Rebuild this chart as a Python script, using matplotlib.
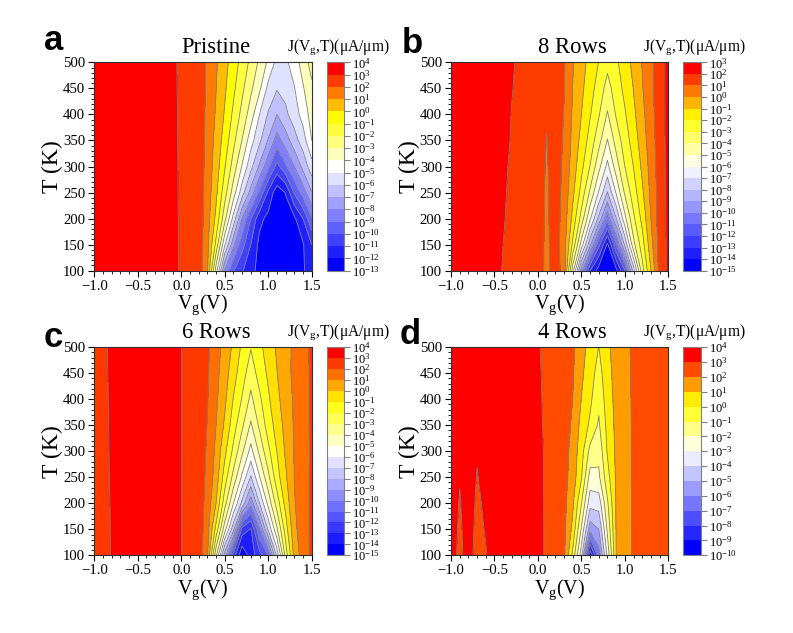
"""
J(Vg, T) contour maps for the pristine and row-edited devices
"""

import numpy as np
from matplotlib import pyplot as plt
from matplotlib.colors import LinearSegmentedColormap
from matplotlib.ticker import FixedLocator, MultipleLocator

plt.rcParams['font.family'] = ['Liberation Serif', 'DejaVu Serif']
plt.rcParams['mathtext.fontset'] = 'custom'
plt.rcParams['mathtext.rm'] = 'Liberation Serif'
plt.rcParams['mathtext.it'] = 'Liberation Serif:italic'
plt.rcParams['mathtext.bf'] = 'Liberation Serif:bold'
plt.rcParams['axes.unicode_minus'] = True

W, H = 793, 633

temps = [100, 150, 200, 250, 300, 350, 400, 450, 500]
vg_ticks = [-1.0, -0.5, 0.0, 0.5, 1.0, 1.5]
t_ticks = [100, 150, 200, 250, 300, 350, 400, 450, 500]

# log10 J, one row per temperature
vg_a = [-1.0, -0.5, -0.1, 0.0, 0.1, 0.2, 0.3, 0.4, 0.5, 0.6, 0.7, 0.8, 0.9, 1.0, 1.1, 1.2, 1.3, 1.4, 1.5]
log_j_a = [
    [3.8, 3.7, 3.3, 2.85, 2.75, 2.6, 1.13, -3.5, -8.1, -9.9, -10.9, -11.7, -12.3, -12.5, -12.6, -12.6, -12.5, -12.1, -11.5],
    [3.8, 3.7, 3.27, 2.86, 2.75, 2.6, 1.31, -1.26, -4.87, -7.72, -9.62, -11.0, -12.3, -12.5, -12.6, -12.6, -12.5, -12.1, -11.0],
    [3.8, 3.7, 3.25, 2.87, 2.75, 2.6, 1.44, -0.25, -2.66, -5.36, -8.0, -10.0, -11.7, -12.3, -12.6, -12.4, -12.2, -11.0, -9.1],
    [3.8, 3.7, 3.22, 2.87, 2.75, 2.6, 1.55, 0.23, -1.58, -3.5, -5.56, -7.36, -9.2, -11.2, -12.6, -11.95, -9.9, -8.5, -7.05],
    [3.8, 3.7, 3.2, 2.88, 2.75, 2.6, 1.63, 0.51, -0.92, -2.44, -4.1, -5.7, -7.16, -8.7, -10.35, -9.2, -8.0, -6.7, -5.4],
    [3.8, 3.7, 3.17, 2.88, 2.75, 2.6, 1.7, 0.68, -0.44, -1.72, -3.04, -4.6, -5.8, -7.07, -8.45, -7.5, -6.4, -5.5, -4.0],
    [3.8, 3.7, 3.15, 2.89, 2.75, 2.6, 1.76, 0.89, -0.1, -1.2, -2.31, -3.5, -5.0, -6.1, -7.0, -6.2, -5.5, -4.6, -3.6],
    [3.8, 3.7, 3.12, 2.89, 2.75, 2.6, 1.82, 1.02, 0.15, -0.8, -1.78, -2.8, -3.8, -5.3, -5.92, -5.7, -5.05, -4.1, -3.2],
    [3.8, 3.7, 3.1, 2.9, 2.75, 2.6, 1.86, 1.12, 0.33, -0.5, -1.37, -2.25, -3.2, -4.2, -5.3, -5.2, -4.53, -3.55, -2.6],
]

vg_b = [-1.0, -0.5, -0.4, -0.3, -0.2, 0.0, 0.1, 0.2, 0.3, 0.4, 0.5, 0.6, 0.7, 0.8, 0.9, 1.0, 1.1, 1.2, 1.3, 1.4, 1.5]
log_j_b = [
    [2.7, 2.1, 1.98, 1.85, 1.7, 1.5, 0.75, 1.5, 0.6, -4.5, -9.5, -13.0, -14.5, -14.8, -14.3, -12.0, -7.5, -3.4, -1.0, 1.39, 2.2],
    [2.7, 2.15, 2.0, 1.9, 1.72, 1.5, 0.78, 1.5, 0.47, -2.2, -5.42, -8.7, -11.7, -14.2, -11.15, -7.8, -4.3, -2.44, -0.37, 1.42, 2.2],
    [2.7, 2.2, 2.03, 1.9, 1.74, 1.5, 0.82, 1.5, 0.59, -1.28, -3.4, -5.85, -8.3, -10.7, -8.05, -5.3, -3.2, -1.7, 0.0, 1.5, 2.2],
    [2.7, 2.2, 2.05, 1.92, 1.76, 1.5, 0.85, 1.5, 0.7, -0.77, -2.35, -4.18, -6.1, -8.04, -5.9, -3.85, -2.47, -1.18, 0.24, 1.46, 2.25],
    [2.7, 2.25, 2.1, 1.92, 1.78, 1.5, 0.9, 1.5, 0.8, -0.45, -1.72, -3.05, -4.68, -6.3, -4.5, -3.0, -1.98, -0.8, 0.4, 1.48, 2.28],
    [2.7, 2.3, 2.15, 1.96, 1.8, 1.5, 0.98, 1.5, 0.89, -0.26, -1.3, -2.39, -3.65, -5.05, -3.6, -2.5, -1.55, -0.5, 0.55, 1.5, 2.3],
    [2.7, 2.4, 2.2, 1.98, 1.84, 1.5, 1.05, 1.5, 0.97, -0.12, -1.0, -1.92, -2.9, -4.1, -2.9, -2.1, -1.22, -0.27, 0.65, 1.55, 2.3],
    [2.7, 2.5, 2.3, 2.02, 1.88, 1.5, 1.12, 1.5, 1.05, -0.02, -0.78, -1.6, -2.42, -3.4, -2.5, -1.75, -0.97, -0.08, 0.8, 1.53, 2.3],
    [2.7, 2.6, 2.4, 2.05, 1.9, 1.5, 1.2, 1.5, 1.1, 0.08, -0.63, -1.32, -2.03, -2.7, -2.18, -1.47, -0.73, 0.05, 0.8, 1.55, 2.3],
]

vg_c = [-1.0, -0.9, -0.8, -0.5, -0.1, 0.0, 0.1, 0.2, 0.3, 0.4, 0.5, 0.6, 0.7, 0.8, 0.9, 1.0, 1.1, 1.2, 1.3, 1.4, 1.5]
log_j_c = [
    [2.6, 2.8, 3.03, 3.7, 3.2, 3.01, 2.8, 2.6, 1.18, -3.75, -8.5, -12.4, -14.9, -13.5, -12.4, -11.0, -6.7, -2.6, 0.33, 1.5, 2.2],
    [2.6, 2.8, 3.04, 3.7, 3.2, 3.01, 2.8, 2.6, 1.43, -1.31, -4.58, -7.68, -12.4, -13.1, -10.13, -6.85, -4.15, -1.5, 0.75, 1.55, 2.2],
    [2.6, 2.8, 3.05, 3.7, 3.2, 3.01, 2.8, 2.6, 1.61, 0.0, -2.6, -5.0, -7.3, -9.65, -7.0, -4.7, -2.55, -0.64, 0.93, 1.55, 2.2],
    [2.6, 2.8, 3.07, 3.7, 3.2, 3.01, 2.8, 2.6, 1.76, 0.55, -1.5, -3.34, -5.2, -7.1, -5.07, -3.27, -1.42, -0.16, 1.02, 1.6, 2.18],
    [2.6, 2.8, 3.09, 3.7, 3.2, 3.01, 2.8, 2.6, 1.87, 0.77, -0.75, -2.25, -3.8, -5.35, -3.77, -2.25, -0.99, 0.14, 1.05, 1.6, 2.15],
    [2.6, 2.8, 3.11, 3.7, 3.2, 3.01, 2.8, 2.6, 1.97, 1.0, -0.16, -1.55, -2.82, -4.15, -2.8, -1.55, -0.58, 0.33, 1.1, 1.65, 2.15],
    [2.6, 2.8, 3.13, 3.7, 3.2, 3.01, 2.8, 2.6, 2.06, 1.18, 0.2, -1.06, -2.08, -3.25, -2.2, -1.17, -0.28, 0.55, 1.13, 1.65, 2.15],
    [2.6, 2.8, 3.16, 3.7, 3.2, 3.01, 2.8, 2.6, 2.12, 1.3, 0.44, -0.6, -1.58, -2.55, -1.6, -0.82, -0.03, 0.68, 1.2, 1.65, 2.15],
    [2.6, 2.8, 3.2, 3.7, 3.2, 3.01, 2.8, 2.6, 2.2, 1.4, 0.65, -0.2, -1.2, -1.95, -1.25, -0.55, 0.12, 0.67, 1.2, 1.7, 2.15],
]

vg_d = [-1.0, -0.9, -0.8, -0.7, -0.6, -0.5, 0.0, 0.1, 0.2, 0.3, 0.4, 0.5, 0.6, 0.7, 0.8, 0.9, 1.0, 1.1, 1.2, 1.3, 1.4, 1.5]
log_j_d = [
    [3.74, 2.6, 3.7, 2.4, 2.9, 3.7, 3.2, 2.9, 2.7, 2.2, -0.23, -3.6, -9.8, -6.5, -2.7, 1.0, 1.75, 2.07, 2.4, 2.5, 2.55, 2.6],
    [3.74, 2.75, 3.7, 2.58, 3.1, 3.7, 3.2, 2.9, 2.7, 2.25, 0.75, -2.1, -5.6, -5.0, -1.8, 1.05, 1.75, 2.07, 2.4, 2.5, 2.55, 2.6],
    [3.74, 2.9, 3.7, 2.76, 3.25, 3.7, 3.19, 2.9, 2.72, 2.3, 1.18, -0.95, -3.6, -3.55, -1.15, 1.1, 1.76, 2.07, 2.4, 2.5, 2.55, 2.6],
    [3.74, 3.08, 3.7, 2.94, 3.4, 3.7, 3.18, 2.9, 2.72, 2.35, 1.55, 0.07, -2.4, -2.2, -0.37, 1.13, 1.77, 2.08, 2.4, 2.5, 2.55, 2.6],
    [3.74, 3.2, 3.7, 3.1, 3.5, 3.7, 3.17, 2.9, 2.74, 2.4, 1.66, 0.4, -1.3, -1.7, 0.1, 1.2, 1.77, 2.08, 2.4, 2.5, 2.55, 2.6],
    [3.74, 3.3, 3.7, 3.25, 3.55, 3.7, 3.14, 2.88, 2.74, 2.45, 1.85, 0.67, -0.18, -1.15, 0.3, 1.25, 1.78, 2.08, 2.4, 2.5, 2.55, 2.6],
    [3.74, 3.4, 3.7, 3.4, 3.6, 3.7, 3.11, 2.87, 2.76, 2.5, 2.0, 0.98, 0.2, -0.75, 0.5, 1.3, 1.78, 2.09, 2.4, 2.5, 2.55, 2.6],
    [3.74, 3.5, 3.7, 3.5, 3.65, 3.7, 3.08, 2.86, 2.76, 2.55, 2.1, 1.19, 0.44, -0.4, 0.67, 1.35, 1.79, 2.1, 2.4, 2.5, 2.55, 2.6],
    [3.74, 3.6, 3.7, 3.6, 3.7, 3.7, 3.05, 2.85, 2.78, 2.6, 2.2, 1.36, 0.64, -0.02, 0.82, 1.4, 1.8, 2.13, 2.4, 2.5, 2.55, 2.6],
]

titles = ['Pristine', '8 Rows', '6 Rows', '4 Rows']
letters = ['a', 'b', 'c', 'd']
level_min = [-13, -15, -15, -10]
level_max = [4, 3, 4, 4]

cmap = LinearSegmentedColormap.from_list(
    'bwyr', [(0.0, '#0000ff'), (0.5, '#ffffff'), (0.75, '#ffff00'), (1.0, '#ff0000')]
)


def px_rect(x0, y0, x1, y1):
    # pixel box (y from the top) to figure fractions
    return [x0 / W, 1 - y1 / H, (x1 - x0) / W, (y1 - y0) / H]


def draw_panel(fig, box, cbox, vg, log_j, lmin, lmax, title, letter, letter_xy):
    ax = fig.add_axes(px_rect(*box))
    cax = fig.add_axes(px_rect(*cbox))

    levels = np.arange(lmin, lmax + 1)
    n = len(levels) - 1
    colors = [cmap(i / (n - 1)) for i in range(n)]

    cf = ax.contourf(vg, temps, log_j, levels=levels, colors=colors)
    ax.contour(vg, temps, log_j, levels=levels, colors='#808080', linewidths=0.6,
               linestyles='solid')

    ax.set_xlim(-1.0, 1.5)
    ax.set_ylim(100, 500)
    ax.set_xticks(vg_ticks)
    ax.set_yticks(t_ticks)
    ax.xaxis.set_minor_locator(MultipleLocator(0.1))
    ax.yaxis.set_minor_locator(MultipleLocator(10))
    ax.tick_params(which='major', length=4, width=0.8, labelsize=10.6, pad=2.5)
    ax.tick_params(which='minor', length=2, width=0.6)
    ax.set_xlabel(r'V$_{\mathrm{g}}$(V)', fontsize=14.5, labelpad=0)
    ax.set_ylabel('T (K)', fontsize=17, labelpad=0)
    for spine in ax.spines.values():
        spine.set_color('#303030')

    cb = fig.colorbar(cf, cax=cax)
    cb.ax.yaxis.set_major_locator(FixedLocator(levels))
    cb.ax.set_yticklabels([f'$10^{{{v}}}$' for v in levels], fontsize=9)
    cb.ax.tick_params(length=4.3, width=0.8, color='#808080', pad=1.5)
    cb.ax.minorticks_off()
    cb.outline.set_edgecolor('#808080')
    cb.outline.set_linewidth(0.8)

    top = box[1]
    fig.text((box[0] + 13 + box[2] + 13) / 2 / W, 1 - (top - 9) / H, title,
             fontsize=16.3, ha='center', va='baseline')
    fig.text((cbox[0] + cbox[2]) / 2 / W + 2.5 / W, 1 - (top - 12) / H,
             r'J(V$_{\mathrm{g}}$,T)($\mathrm{\mu}$A/$\mathrm{\mu}$m)',
             fontsize=11.2, ha='center', va='baseline')
    fig.text(letter_xy[0] / W, 1 - letter_xy[1] / H, letter, fontsize=25,
             fontweight='bold', family='Liberation Sans', ha='left', va='baseline')


def main():
    fig = plt.figure(figsize=(W / 100, H / 100), dpi=100)

    boxes = [
        (94.3, 62.3, 311.7, 270.7),
        (451.0, 62.3, 668.3, 270.7),
        (94.3, 347.3, 311.7, 555.3),
        (451.0, 347.3, 668.3, 555.3),
    ]
    cboxes = [
        (326.7, 62.3, 344.0, 270.7),
        (683.3, 62.3, 701.0, 270.7),
        (326.7, 347.3, 344.0, 555.3),
        (683.3, 347.3, 701.0, 555.3),
    ]
    letter_xy = [(44, 50), (402, 53), (44, 347), (400, 344)]
    vgs = [vg_a, vg_b, vg_c, vg_d]
    tables = [log_j_a, log_j_b, log_j_c, log_j_d]

    for i in range(4):
        draw_panel(fig, boxes[i], cboxes[i], vgs[i], tables[i], level_min[i],
                   level_max[i], titles[i], letters[i], letter_xy[i])

    fig.savefig('out.png', dpi=100)
    plt.close(fig)


if __name__ == '__main__':
    main()
